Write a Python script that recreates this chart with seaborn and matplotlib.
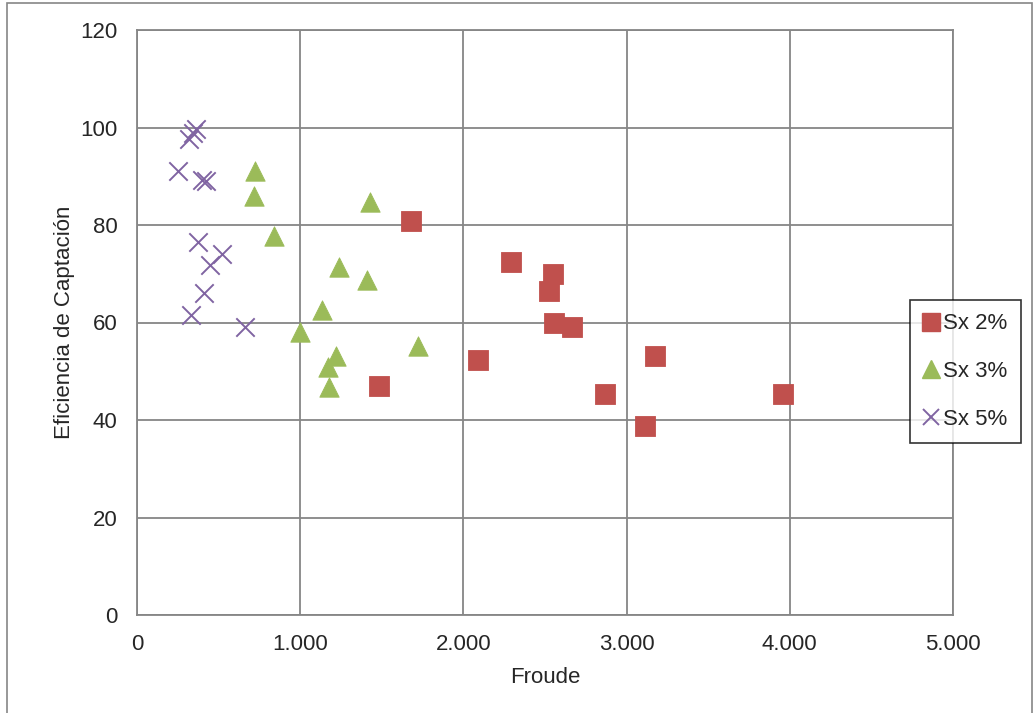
import numpy as np
import pandas as pd
import matplotlib
matplotlib.use("Agg")
import matplotlib.pyplot as plt
from matplotlib.ticker import FuncFormatter
from matplotlib.patches import Rectangle
import seaborn as sns

# data
froude_2 = [1.679, 2.292, 2.551, 2.523, 2.557, 2.666, 2.091, 1.481, 3.174, 2.870, 3.113, 3.960]
efic_2 = [80.9, 72.4, 69.9, 66.5, 59.8, 59.1, 52.3, 47.0, 53.2, 45.3, 38.8, 45.3]

froude_3 = [0.725, 0.717, 1.428, 0.837, 1.236, 1.409, 1.134, 0.997, 1.719, 1.218, 1.172, 1.174]
efic_3 = [91.1, 85.9, 84.7, 77.7, 71.4, 68.7, 62.6, 58.1, 55.1, 53.1, 50.8, 46.8]

froude_5 = [0.361, 0.345, 0.319, 0.249, 0.396, 0.422, 0.376, 0.523, 0.449, 0.411, 0.331, 0.664]
efic_5 = [99.6, 98.9, 97.6, 91.1, 89.2, 89.1, 76.5, 74.1, 71.7, 66.0, 61.5, 59.1]

series = ["Sx 2%", "Sx 3%", "Sx 5%"]
colors = {"Sx 2%": "#C0504D", "Sx 3%": "#9BBB59", "Sx 5%": "#8064A2"}
markers = {"Sx 2%": "s", "Sx 3%": "^", "Sx 5%": "x"}

df = pd.concat([
    pd.DataFrame({"Froude": froude_2, "Eficiencia": efic_2, "serie": series[0]}),
    pd.DataFrame({"Froude": froude_3, "Eficiencia": efic_3, "serie": series[1]}),
    pd.DataFrame({"Froude": froude_5, "Eficiencia": efic_5, "serie": series[2]}),
], ignore_index=True)

sns.set_style("white")
plt.rcParams["font.family"] = ["Liberation Sans", "DejaVu Sans"]

fig = plt.figure(figsize=(10.34, 7.13), dpi=100)
ax = fig.add_axes([137 / 1034, 1 - 615 / 713, (953 - 137) / 1034, (615 - 30) / 713])

# one call per series: filled and line-art markers can't share a style mapping
for name in series:
    d = df[df.serie == name]
    if markers[name] == "x":
        sns.scatterplot(data=d, x="Froude", y="Eficiencia", color=colors[name],
                        marker="x", s=175, linewidth=1.4, ax=ax, legend=False, zorder=3)
    else:
        sns.scatterplot(data=d, x="Froude", y="Eficiencia", color=colors[name],
                        marker=markers[name], s=195, linewidth=0.6, edgecolor="face",
                        ax=ax, legend=False, zorder=3)

ax.set_xlim(0, 5)
ax.set_ylim(0, 120)
ax.set_xticks(np.arange(0, 6, 1))
ax.set_yticks(np.arange(0, 121, 20))
ax.xaxis.set_major_formatter(FuncFormatter(lambda v, p: "0" if v == 0 else f"{v:.3f}"))
ax.grid(True, color="#868686", linewidth=1.3)
ax.set_axisbelow(True)
for sp in ax.spines.values():
    sp.set_color("#868686")
    sp.set_linewidth(1.3)
ax.tick_params(length=0, labelsize=16, pad=14)
ax.set_xlabel("Froude", fontsize=16, labelpad=8)
ax.set_ylabel("Eficiencia de Captación", fontsize=16, labelpad=4)

# legend
handles = [
    plt.Line2D([], [], linestyle="none", marker="s", markersize=13, color=colors["Sx 2%"]),
    plt.Line2D([], [], linestyle="none", marker="^", markersize=13, color=colors["Sx 3%"]),
    plt.Line2D([], [], linestyle="none", marker="x", markersize=12, markeredgewidth=1.4,
               color=colors["Sx 5%"]),
]
leg = fig.legend(handles, series, loc="upper left", bbox_to_anchor=(910 / 1034, 1 - 300 / 713),
                 fontsize=16, frameon=True, fancybox=False, handlelength=0.7,
                 handletextpad=0.2, labelspacing=1.2, borderpad=0.6, borderaxespad=0)
leg.get_frame().set_edgecolor("black")
leg.get_frame().set_linewidth(1.2)

# outer chart border
fig.patches.append(Rectangle((7 / 1034, -0.01), 1025 / 1034, 1 - 3 / 713 + 0.01,
                             transform=fig.transFigure, fill=False,
                             edgecolor="#868686", linewidth=1.2))

fig.savefig("out.png", dpi=100)
